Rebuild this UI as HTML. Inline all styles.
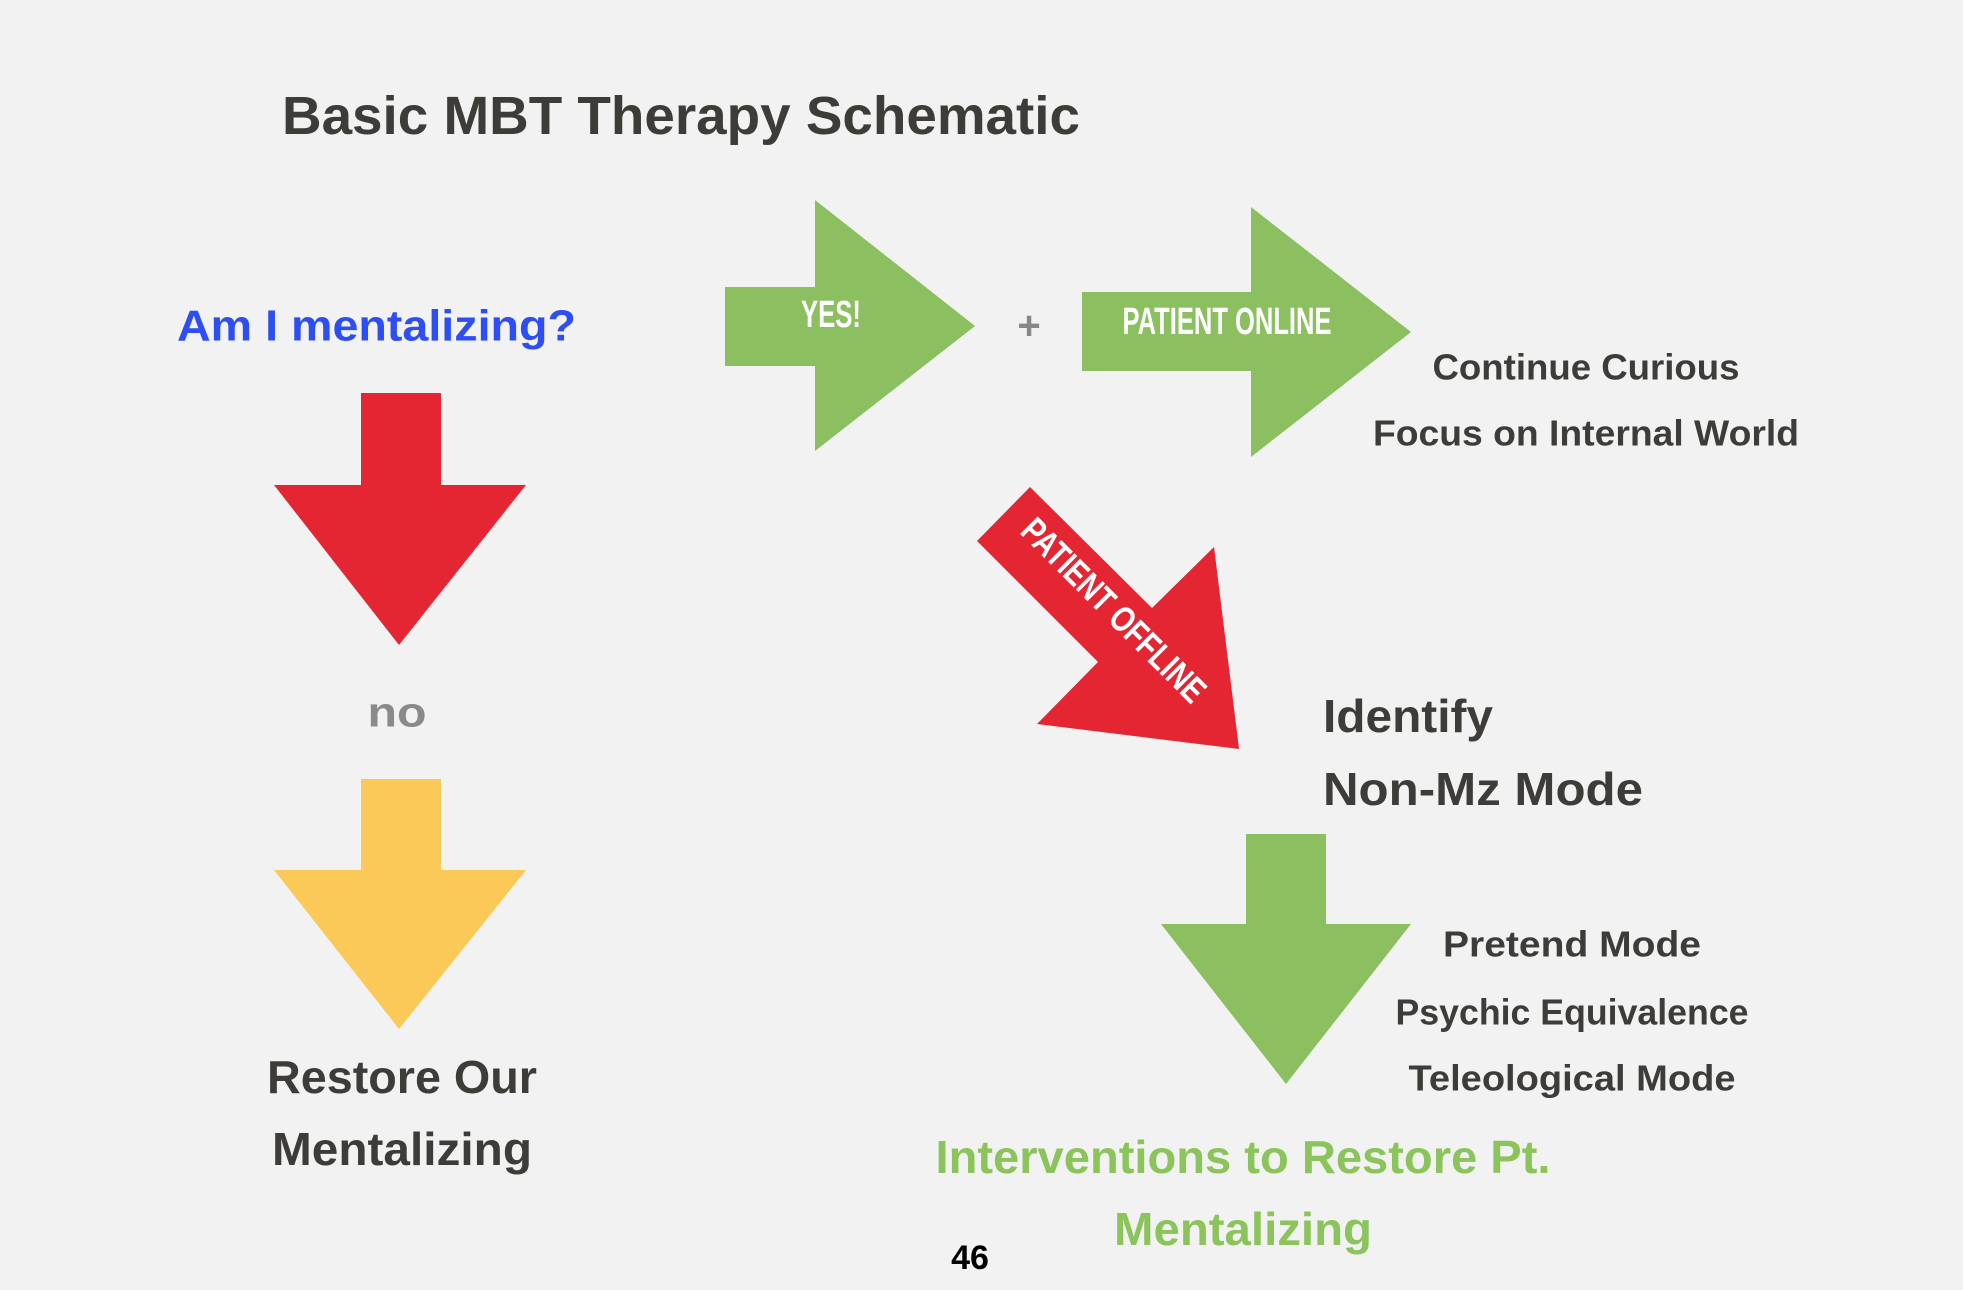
<!DOCTYPE html>
<html><head><meta charset="utf-8"><style>
html,body{margin:0;padding:0;background:#f2f2f2;}
svg{display:block;}
text{font-family:"Liberation Sans",sans-serif;font-weight:bold;dominant-baseline:central;}
</style></head><body>
<svg width="1963" height="1290" viewBox="0 0 1963 1290" xmlns="http://www.w3.org/2000/svg">
<rect width="1963" height="1290" fill="#f2f2f2"/>
<text x="282" y="116" font-size="54" fill="#3e3c38" textLength="798" lengthAdjust="spacingAndGlyphs">Basic MBT Therapy Schematic</text>
<text x="177" y="326" font-size="44" fill="#2d4ef5" textLength="399" lengthAdjust="spacingAndGlyphs">Am I mentalizing?</text>
<!-- red down arrow -->
<polygon points="361,393 441,393 441,485 526,485 399,645 274,485 361,485" fill="#e42532"/>
<text x="397" y="712" font-size="42" fill="#8a8a8a" text-anchor="middle" textLength="59" lengthAdjust="spacingAndGlyphs">no</text>
<!-- yellow arrow -->
<polygon points="361,779 441,779 441,870 526,870 399,1029 274,870 361,870" fill="#fac958"/>
<text x="402" y="1077" font-size="46" fill="#3e3c38" text-anchor="middle" textLength="270" lengthAdjust="spacingAndGlyphs">Restore Our</text>
<text x="402" y="1149" font-size="46" fill="#3e3c38" text-anchor="middle" textLength="260" lengthAdjust="spacingAndGlyphs">Mentalizing</text>
<!-- YES arrow -->
<polygon points="725,287 815,287 815,200 975,326 815,451 815,366 725,366" fill="#8bbf5f"/>
<text x="831" y="315" font-size="38" fill="#fff" text-anchor="middle" textLength="60" lengthAdjust="spacingAndGlyphs">YES!</text>
<text x="1029" y="326" font-size="40" fill="#888" text-anchor="middle">+</text>
<!-- patient online -->
<polygon points="1082,292 1251,292 1251,207 1411,332 1251,457 1251,371 1082,371" fill="#8bbf5f"/>
<text x="1227" y="322" font-size="38" fill="#fff" text-anchor="middle" textLength="209" lengthAdjust="spacingAndGlyphs">PATIENT ONLINE</text>
<text x="1586" y="367" font-size="36" fill="#3e3c38" text-anchor="middle" textLength="307" lengthAdjust="spacingAndGlyphs">Continue Curious</text>
<text x="1586" y="433" font-size="36" fill="#3e3c38" text-anchor="middle" textLength="426" lengthAdjust="spacingAndGlyphs">Focus on Internal World</text>
<!-- offline arrow -->
<polygon points="977,541 1030,487 1152,608 1214,547 1239,749 1037,724 1098,662" fill="#e42532"/>
<text x="0" y="0" font-size="36" fill="#fff" text-anchor="middle" textLength="244" lengthAdjust="spacingAndGlyphs" transform="translate(1114,610) rotate(45)">PATIENT OFFLINE</text>
<text x="1323" y="716" font-size="46" fill="#3e3c38" textLength="170" lengthAdjust="spacingAndGlyphs">Identify</text>
<text x="1323" y="789" font-size="46" fill="#3e3c38" textLength="320" lengthAdjust="spacingAndGlyphs">Non-Mz Mode</text>
<!-- green down arrow -->
<polygon points="1246,834 1326,834 1326,924 1411,924 1286,1084 1161,924 1246,924" fill="#8bbf5f"/>
<text x="1572" y="944" font-size="36" fill="#3e3c38" text-anchor="middle" textLength="258" lengthAdjust="spacingAndGlyphs">Pretend Mode</text>
<text x="1572" y="1012" font-size="36" fill="#3e3c38" text-anchor="middle" textLength="353" lengthAdjust="spacingAndGlyphs">Psychic Equivalence</text>
<text x="1572" y="1078" font-size="36" fill="#3e3c38" text-anchor="middle" textLength="327" lengthAdjust="spacingAndGlyphs">Teleological Mode</text>
<text x="1243" y="1157" font-size="46" fill="#8bc45a" text-anchor="middle" textLength="615" lengthAdjust="spacingAndGlyphs">Interventions to Restore Pt.</text>
<text x="1243" y="1229" font-size="46" fill="#8bc45a" text-anchor="middle" textLength="258" lengthAdjust="spacingAndGlyphs">Mentalizing</text>
<text x="970" y="1258" font-size="34" fill="#000" text-anchor="middle">46</text>
</svg>
</body></html>
